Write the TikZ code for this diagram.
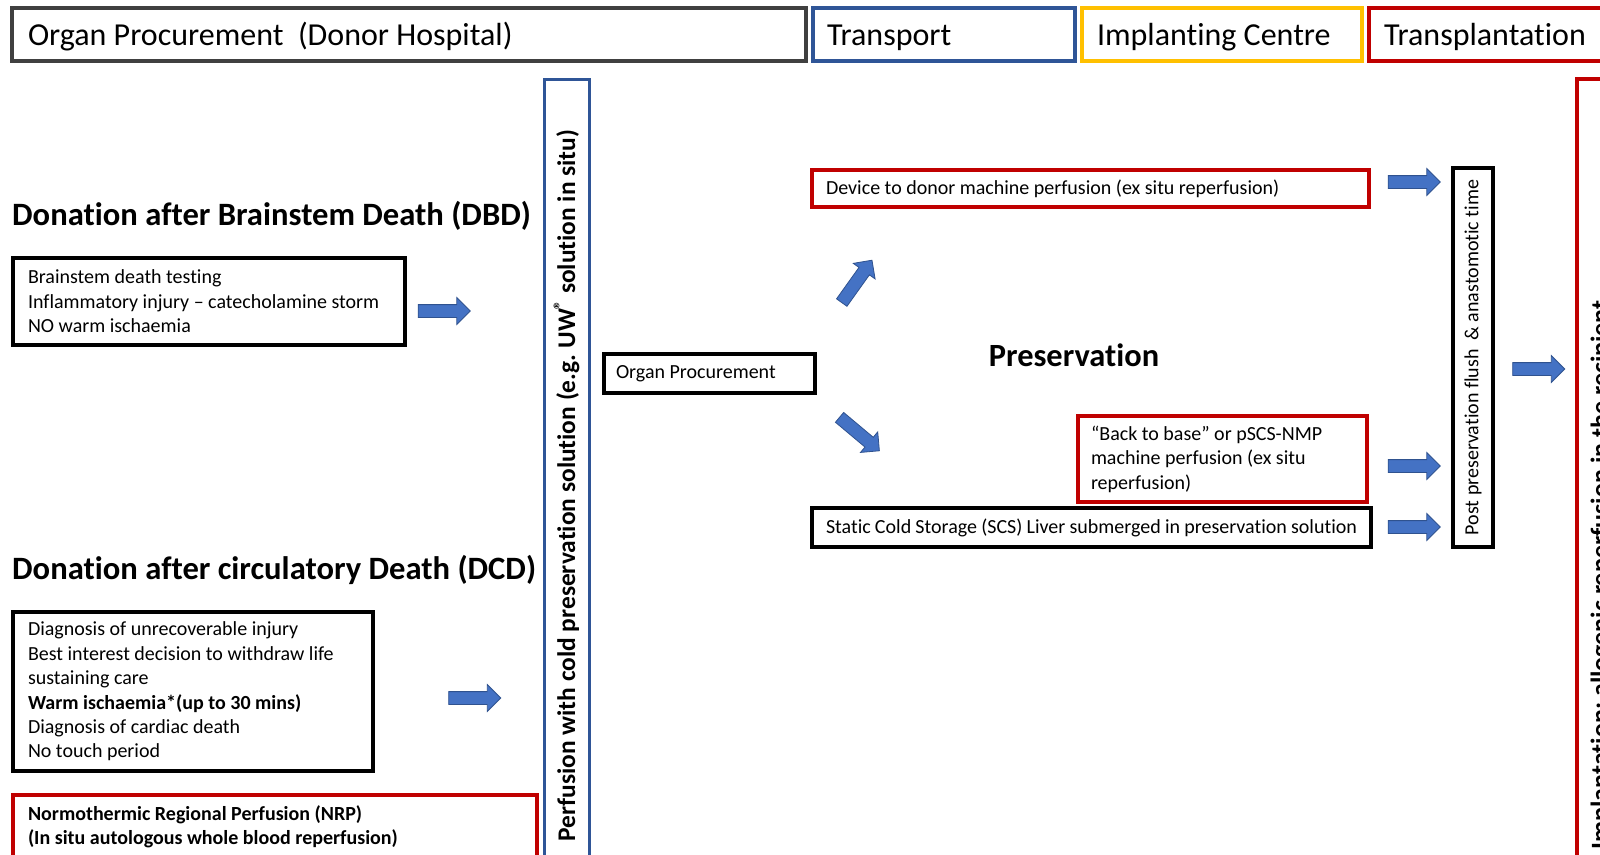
\documentclass[tikz,border=0pt]{standalone}
\usepackage{fontspec}
\setmainfont{Carlito}[Ligatures={TeX,NoCommon}]
\usetikzlibrary{shapes.arrows}
\definecolor{hdgray}{HTML}{404040}
\definecolor{hdblue}{HTML}{2F5597}
\definecolor{hdgold}{HTML}{FFC000}
\definecolor{hdred}{HTML}{C00000}
\definecolor{arrfill}{HTML}{4472C4}
\definecolor{arrdraw}{HTML}{2F528F}
\newcommand{\fsz}[2]{\fontsize{#1}{#2}\selectfont}
\frenchspacing
\begin{document}
\begin{tikzpicture}[x=1pt,y=-1pt,
  hdr/.style={draw, line width=4pt, minimum height=53pt, inner ysep=0pt, align=flush left,
    text height=24pt, text depth=3pt, font=\fsz{32}{38}},
  box/.style={draw, line width=3.5pt, inner ysep=0pt, align=flush left, font=\fsz{20}{24.4}},
  titletext/.style={anchor=west, inner sep=0pt, font=\bfseries\fsz{32.6}{38}},
  vbox/.style={draw, rotate=90, inner sep=0pt, align=center},
  blockarrow/.style={single arrow, fill=arrfill, draw=arrdraw, line width=0.8pt,
    minimum height=52pt, minimum width=26pt, inner sep=6pt,
    single arrow head extend=7pt, single arrow tip angle=90, single arrow head indent=0pt}]
\useasboundingbox (0,0) rectangle (1600,854);
\clip (0,0) rectangle (1600,854);
\fill[white] (0,0) rectangle (1600,854);

% headers
\node[hdr, draw=hdgray, text width=762pt, inner xsep=16pt] (h1) at (409,34.5) {Organ Procurement\ \ (Donor Hospital)};
\node[hdr, draw=hdblue, text width=234pt, inner xsep=14pt] (h2) at (944,34.5) {Transport};
\node[hdr, draw=hdgold, text width=250pt, inner xsep=15pt] (h3) at (1222,34.5) {Implanting Centre};
\node[hdr, draw=hdred, text width=221pt, inner xsep=15pt] (h4) at (1494.5,34.5) {Transplantation};

% titles
\node[titletext] (dbdt) at (12,216) {Donation after Brainstem Death (DBD)};
\node[titletext] (dcdt) at (12,570) {Donation after circulatory Death (DCD)};

% left boxes
\node[box, minimum height=87pt, text width=362pt, inner xsep=15pt] (dbd) at (209,301.5)
  {Brainstem death testing\\Inflammatory injury – catecholamine storm\\NO warm ischaemia};
\node[box, minimum height=159pt, text width=330pt, inner xsep=15pt] (dcd) at (193,691.5)
  {Diagnosis of unrecoverable injury\\Best interest decision to withdraw life\\sustaining care\\\textbf{Warm ischaemia*(up to 30 mins)}\\Diagnosis of cardiac death\\No touch period};
\node[box, draw=hdred, minimum height=64pt, text width=494pt, inner xsep=15pt, font=\bfseries\fsz{20}{24.4}] (nrp) at (275,827)
  {Normothermic Regional Perfusion (NRP)\\(In situ autologous whole blood reperfusion)};

% vertical perfusion box
\node[vbox, draw=hdblue, line width=3pt, minimum width=813pt, minimum height=45pt, font=\bfseries\fsz{25.4}{30}] (perf) at (566.5,485.5)
  {Perfusion with cold preservation solution (e.g. UW\textsuperscript{®} solution in situ)};

% middle
\node[box, minimum height=39pt, text width=187pt, inner xsep=12pt] (op) at (709.5,373.5) {Organ Procurement};
\node[box, draw=hdred, minimum height=37pt, text width=529pt, inner xsep=14pt] (dev) at (1090.5,188.5)
  {Device to donor machine perfusion (ex situ reperfusion)};
\node[box, draw=hdred, minimum height=86pt, text width=263pt, inner xsep=13pt] (btb) at (1222.5,459)
  {“Back to base” or pSCS-NMP\\machine perfusion (ex situ\\reperfusion)};
\node[box, minimum height=39pt, text width=531pt, inner xsep=14pt] (scs) at (1091.5,527.5)
  {Static Cold Storage (SCS) Liver submerged in preservation solution};
\node[font=\bfseries\fsz{32.4}{38}, inner sep=0pt] (pres) at (1074,355) {Preservation};

% post box
\node[vbox, draw=black, line width=3.5pt, minimum width=379pt, minimum height=40pt, font=\fsz{20}{24}] (post) at (1473,357.5)
  {Post preservation flush\ \ \& anastomotic time};

% implantation box
\node[vbox, draw=hdred, line width=3.5pt, minimum width=992pt, minimum height=50pt, font=\bfseries\fsz{26}{31}] (impl) at (1602,575)
  {Implantation: allogenic reperfusion in the recipient};

% arrows
\node[blockarrow] (a1) at (441,311) {};
\node[blockarrow] (a2) at (471.5,698) {};
\node[blockarrow, rotate=54.5] (a3) at (855,284) {};
\node[blockarrow, rotate=-40] (a4) at (857,432) {};
\node[blockarrow] (a5) at (1411,182) {};
\node[blockarrow] (a6) at (1411,466) {};
\node[blockarrow] (a7) at (1411,527) {};
\node[blockarrow] (a8) at (1535.5,369) {};
\end{tikzpicture}
\end{document}
